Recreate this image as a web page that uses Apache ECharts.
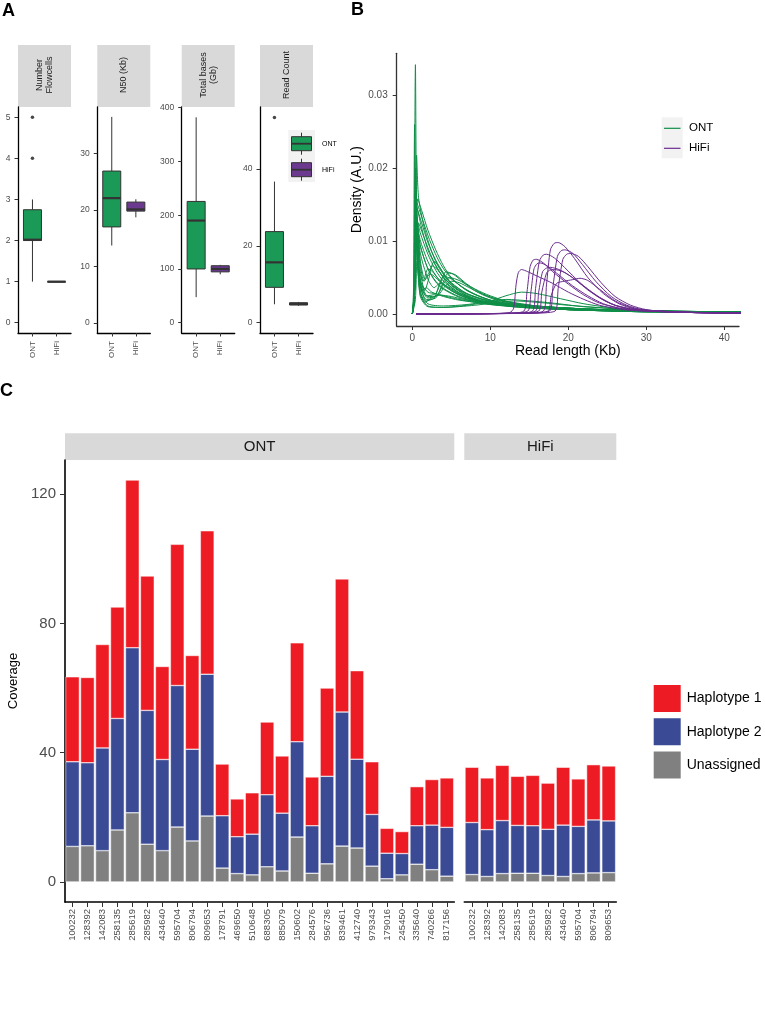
<!DOCTYPE html>
<html><head><meta charset="utf-8">
<script src="https://cdn.jsdelivr.net/npm/echarts@6/dist/echarts.min.js"></script>
<style>html,body{margin:0;padding:0;background:#fff}#c{width:765px;height:1018px}</style>
</head><body><div id="c"></div>
<script>
const FONT = '"Liberation Sans", Arial, Helvetica, sans-serif';

// ---------- Panel A data (boxplots: low whisker, Q1, median, Q3, high whisker) ----------
const boxCategories = ['ONT', 'HiFi'];
const flowcellsBox = [[1, 2, 2.02, 2.75, 3], [1, 1, 1, 1, 1]];
const flowcellsOutliers = [4, 5];
const flowcellsTicks = [0, 1, 2, 3, 4, 5];
const n50Box = [[13.7, 17.0, 22.1, 26.9, 36.5], [18.7, 19.8, 20.1, 21.4, 21.9]];
const n50Outliers = [];
const n50Ticks = [0, 10, 20, 30];
const totalBasesBox = [[47.6, 100, 190, 225.6, 382], [90, 94.6, 100, 106, 107.6]];
const totalBasesOutliers = [];
const totalBasesTicks = [0, 100, 200, 300, 400];
const readCountBox = [[4.8, 9.2, 15.7, 23.7, 36.7], [4.4, 4.6, 4.9, 5.2, 5.4]];
const readCountOutliers = [53.4];
const readCountTicks = [0, 20, 40];

// ---------- Panel B data (read length density curves, [Kb, density]) ----------
const ontCurves = [
  [[0,0],[0.2,0.002],[0.4,0.0342],[0.6,0.009],[1,0.0045],[2,0.003],[3,0.0028],[4,0.0025],[6,0.002],[8,0.0016],[10,0.0013],[14,0.001],[20,0.0007],[30,0.0004],[44,0.0002]],
  [[0,0],[0.15,0.003],[0.3,0.026],[0.5,0.014],[1,0.0095],[2,0.0062],[3,0.0045],[4,0.0035],[6,0.0024],[8,0.0018],[10,0.0014],[14,0.001],[20,0.0007],[30,0.0004],[44,0.0002]],
  [[0,0],[0.3,0.004],[0.55,0.0218],[0.8,0.016],[1.5,0.012],[2.5,0.0085],[3.5,0.0062],[5,0.0042],[7,0.0028],[10,0.0018],[14,0.0012],[20,0.0008],[30,0.0004],[44,0.0002]],
  [[0,0],[0.3,0.003],[0.7,0.0158],[1.2,0.0142],[2,0.0115],[3,0.0088],[4,0.0066],[5,0.005],[7,0.0032],[10,0.0019],[14,0.0012],[20,0.0008],[30,0.0004],[44,0.0002]],
  [[0,0],[0.3,0.003],[0.6,0.0145],[1.2,0.0125],[2,0.0098],[3,0.0074],[4,0.0056],[5,0.0043],[7,0.0028],[10,0.0017],[14,0.0011],[20,0.0007],[30,0.0004],[44,0.0002]],
  [[0,0],[0.25,0.002],[0.5,0.0135],[1,0.0112],[2,0.0082],[3,0.006],[4,0.0045],[6,0.0029],[8,0.002],[10,0.0015],[14,0.001],[20,0.0007],[30,0.0004],[44,0.0002]],
  [[0,0],[0.25,0.002],[0.5,0.013],[1,0.0095],[2,0.0062],[3,0.0044],[4,0.0034],[6,0.0023],[8,0.0017],[10,0.0013],[14,0.0009],[20,0.0006],[30,0.0004],[44,0.0002]],
  [[0,0],[0.25,0.002],[0.5,0.0128],[1,0.0075],[1.6,0.0048],[2.2,0.0058],[2.8,0.0072],[3.5,0.0064],[4.5,0.0047],[6,0.0032],[8,0.0021],[10,0.0015],[14,0.001],[20,0.0006],[30,0.0003],[44,0.0002]],
  [[0,0],[0.25,0.002],[0.5,0.0142],[1,0.0062],[1.6,0.0032],[2.1,0.0048],[2.6,0.0066],[3.3,0.006],[4.5,0.0042],[6,0.0029],[8,0.002],[10,0.0014],[14,0.0009],[20,0.0006],[30,0.0003],[44,0.0002]],
  [[0,0],[0.25,0.002],[0.5,0.012],[1,0.0045],[1.8,0.0025],[3,0.0028],[3.7,0.0045],[4.3,0.0058],[5.2,0.0055],[6.5,0.0044],[8,0.0032],[10,0.0022],[13,0.0014],[20,0.0007],[30,0.0004],[44,0.0002]],
  [[0,0],[0.25,0.002],[0.5,0.0118],[1,0.004],[1.8,0.002],[3,0.0022],[3.9,0.0042],[4.6,0.0056],[5.5,0.0054],[7,0.0041],[9,0.0028],[11,0.002],[14,0.0013],[20,0.0008],[30,0.0004],[44,0.0002]],
  [[0,0],[0.25,0.002],[0.5,0.0125],[1,0.0042],[1.8,0.0018],[2.8,0.0022],[3.5,0.0042],[4,0.0052],[5,0.0048],[6.5,0.0036],[8,0.0027],[10,0.0019],[13,0.0013],[20,0.0007],[30,0.0004],[44,0.0002]],
  [[0,0],[0.25,0.002],[0.5,0.0105],[1,0.003],[2,0.0014],[4,0.0011],[7,0.0013],[10,0.0018],[12,0.0025],[14,0.003],[16,0.0028],[19,0.0021],[22,0.0014],[26,0.0008],[30,0.0005],[44,0.0002]],
  [[0,0],[0.25,0.002],[0.5,0.011],[1,0.0028],[2,0.0011],[4,0.0009],[7,0.0012],[10,0.0017],[12,0.002],[15,0.0018],[18,0.0015],[22,0.001],[30,0.0005],[44,0.0002]],
  [[0,0],[0.25,0.002],[0.5,0.0095],[1,0.0025],[2,0.001],[4,0.0009],[8,0.0012],[11,0.0016],[13,0.0018],[16,0.0016],[20,0.0012],[25,0.0008],[30,0.0005],[44,0.0002]],
  [[0,0],[0.25,0.002],[0.5,0.0138],[1,0.0085],[2,0.0048],[2.8,0.0036],[3.5,0.0042],[4.5,0.0038],[6,0.0028],[8,0.002],[10,0.0015],[14,0.001],[20,0.0006],[30,0.0003],[44,0.0002]],
  [[0,0],[0.4,0.002],[0.8,0.0125],[1.5,0.0105],[2.5,0.0078],[3.5,0.0058],[5,0.0039],[7,0.0025],[10,0.0016],[14,0.0011],[20,0.0007],[30,0.0004],[44,0.0002]],
  [[0,0],[0.2,0.002],[0.45,0.02],[0.7,0.008],[1,0.0035],[1.6,0.0016],[2.5,0.0022],[3.5,0.0026],[5,0.0024],[7,0.0019],[10,0.0015],[14,0.0011],[20,0.0007],[30,0.0004],[44,0.0002]],
  [[0,0],[0.25,0.002],[0.5,0.015],[1,0.0072],[1.5,0.0045],[2.3,0.0055],[3,0.005],[4,0.0039],[6,0.0026],[8,0.0019],[10,0.0014],[14,0.001],[20,0.0006],[30,0.0003],[44,0.0002]],
  [[0,0],[0.25,0.002],[0.5,0.013],[1,0.005],[2,0.0024],[3.2,0.0025],[4.2,0.0038],[5,0.0045],[6,0.0043],[7.5,0.0035],[9.5,0.0025],[12,0.0017],[16,0.0011],[22,0.0007],[30,0.0004],[44,0.0002]],
  [[0,0],[0.25,0.002],[0.55,0.0148],[1.2,0.0118],[2,0.0088],[3,0.0066],[4,0.005],[5.5,0.0036],[7.5,0.0025],[10,0.0017],[14,0.0011],[20,0.0007],[30,0.0004],[44,0.0002]],
  [[0,0],[0.25,0.002],[0.6,0.0152],[1.3,0.013],[2.2,0.0102],[3.2,0.0077],[4.2,0.0059],[5.5,0.0044],[7.5,0.003],[10,0.0019],[14,0.0012],[20,0.0008],[30,0.0004],[44,0.0002]],
  [[0,0],[0.25,0.002],[0.5,0.0122],[0.9,0.006],[1.4,0.0045],[2,0.0062],[2.6,0.0058],[3.5,0.0046],[5,0.0032],[7,0.0022],[10,0.0015],[14,0.001],[20,0.0006],[30,0.0003],[44,0.0002]],
  [[0,0],[0.25,0.002],[0.5,0.0115],[1,0.0042],[2,0.0022],[3.2,0.0026],[4.1,0.0043],[4.8,0.005],[6,0.0046],[7.5,0.0037],[9.5,0.0027],[12,0.0018],[16,0.0011],[22,0.0007],[30,0.0004],[44,0.0002]],
  [[0,0],[0.25,0.002],[0.5,0.0132],[1,0.0102],[2,0.0072],[3,0.0053],[4,0.0041],[6,0.0027],[8,0.0019],[10,0.0014],[14,0.001],[20,0.0006],[30,0.0004],[44,0.0002]],
  [[0,0],[0.2,0.002],[0.45,0.017],[0.8,0.0065],[1.3,0.0032],[1.8,0.0036],[2.5,0.003],[4,0.0024],[6,0.0019],[9,0.0015],[13,0.0011],[20,0.0007],[30,0.0004],[44,0.0002]]
];
const hifiCurves = [
  [[0.5,0],[10,0.00005],[12.5,0.0002],[13,0.0008],[13.3,0.004],[13.6,0.0057],[14,0.0061],[14.8,0.0058],[16,0.0052],[18,0.0042],[20,0.003],[22,0.002],[24,0.0012],[27,0.0006],[30,0.0004],[36,0.0002],[44,0.0001]],
  [[0.5,0],[12,0.0001],[14.3,0.0004],[14.7,0.003],[15.1,0.0065],[15.5,0.0074],[15.9,0.0075],[16.8,0.007],[18,0.0058],[20,0.0041],[22,0.0026],[24,0.0015],[27,0.0007],[30,0.0004],[36,0.0002],[44,0.0001]],
  [[0.5,0],[12,0.0001],[14.8,0.0004],[15.2,0.003],[15.6,0.0062],[16,0.0069],[16.4,0.007],[17.3,0.0066],[18.5,0.0056],[20.5,0.0039],[22.5,0.0025],[24.5,0.0014],[27,0.0007],[30,0.0004],[36,0.0002],[44,0.0001]],
  [[0.5,0],[13,0.0001],[15.4,0.0004],[15.8,0.0035],[16.3,0.0073],[16.8,0.0081],[17.2,0.0082],[18.2,0.0077],[19.5,0.0064],[21.5,0.0043],[23.5,0.0026],[25.5,0.0014],[28,0.0007],[30,0.0005],[36,0.0002],[44,0.0001]],
  [[0.5,0],[13,0.0001],[15.8,0.0004],[16.2,0.003],[16.7,0.0058],[17.2,0.0063],[17.7,0.0064],[18.8,0.0061],[20,0.0054],[22,0.0038],[24,0.0023],[26,0.0012],[28,0.0007],[30,0.0005],[36,0.0002],[44,0.0001]],
  [[0.5,0],[14,0.0001],[16.8,0.0004],[17.2,0.004],[17.7,0.0088],[18.2,0.0097],[18.7,0.0098],[19.6,0.0092],[20.8,0.0076],[22.5,0.005],[24.5,0.0028],[26.5,0.0014],[28.5,0.0007],[31,0.0004],[36,0.0002],[44,0.0001]],
  [[0.5,0],[14,0.0001],[17.6,0.0004],[18,0.0035],[18.6,0.0079],[19.1,0.0087],[19.6,0.0088],[20.6,0.0083],[21.8,0.0068],[23.5,0.0045],[25.5,0.0024],[27.5,0.0012],[29.5,0.0006],[32,0.0004],[36,0.0002],[44,0.0001]],
  [[0.5,0],[15,0.0001],[18.3,0.0004],[18.7,0.0035],[19.3,0.0075],[19.8,0.0082],[20.3,0.0083],[21.3,0.0079],[22.5,0.0065],[24.2,0.0043],[26,0.0024],[28,0.0012],[30,0.0006],[33,0.0003],[44,0.0001]],
  [[0.5,0],[14,0.0001],[17.4,0.0004],[17.8,0.0025],[18.5,0.0042],[19.5,0.0045],[20.5,0.0047],[21.5,0.0049],[22.5,0.0046],[24,0.0034],[26,0.0018],[28,0.0009],[30,0.0005],[36,0.0002],[44,0.0001]],
  [[0.5,0],[13,0.0001],[16.2,0.0004],[16.6,0.003],[17.2,0.0056],[17.6,0.006],[18.2,0.0061],[19.3,0.0058],[20.8,0.0048],[22.5,0.0033],[24.5,0.0019],[26.5,0.001],[29,0.0005],[33,0.0003],[44,0.0001]]
];
const densityTicks = [0, 0.01, 0.02, 0.03];
const lengthTicks = [0, 10, 20, 30, 40];

// ---------- Panel C data (coverage per sample) ----------
const ontSamples = ['100232','128392','142083','258135','285619','285982','434640','595704','806794','809653','178791','469650','510648','688305','885079','150602','284576','956736','839461','412740','979343','179016','245450','335640','740266','817156'];
const ontUnassigned = [11.0,11.2,9.7,16.1,21.4,11.7,9.7,17.0,12.7,20.4,4.3,2.6,2.2,4.7,3.4,13.9,2.7,5.6,11.1,10.5,4.9,1.0,2.2,5.5,3.8,1.8];
const ontHap2 = [26.2,25.7,31.8,34.5,51.1,41.4,28.2,43.8,28.4,43.9,16.2,11.4,12.6,22.3,17.9,29.5,14.7,27.1,41.5,27.5,16.0,7.9,6.6,11.9,13.8,15.1];
const ontHap1 = [26.3,26.4,32.0,34.5,51.9,41.6,28.8,43.7,29.0,44.4,16.0,11.7,12.8,22.5,17.7,30.6,15.1,27.3,41.2,27.4,16.3,7.7,6.8,12.1,14.1,15.3];
const hifiSamples = ['100232','128392','142083','258135','285619','285982','434640','595704','806794','809653'];
const hifiUnassigned = [2.3,1.7,2.6,2.7,2.7,2.0,1.7,2.6,2.8,2.9];
const hifiHap2 = [16.1,14.5,16.4,14.8,14.7,14.3,15.9,14.6,16.4,16.0];
const hifiHap1 = [17.1,16.0,17.1,15.2,15.6,14.3,17.9,14.7,17.1,17.0];
const coverageTicks = [0, 40, 80, 120];

// ---------- styles ----------
const ONT_FILL = '#1b9a57', HIFI_FILL = '#6b3a8f';
const ONT_LINE = '#0f8f47', HIFI_LINE = '#6a2c8e';
const RED = '#ed1c24', BLUE = '#3a4a95', GREY = '#808080';
const TICK_COL = '#4d4d4d';

function boxRender(params, api) {
  const x = api.value(0);
  const p = k => api.coord([x, api.value(k)]);
  const lo = p(1), q1 = p(2), md = p(3), q3 = p(4), hi = p(5);
  const w = 18, cx = lo[0];
  const fill = params.dataIndex === 0 ? ONT_FILL : HIFI_FILL;
  const stroke = '#333';
  return { type: 'group', children: [
    { type: 'line', shape: { x1: cx, y1: lo[1], x2: cx, y2: q1[1] }, style: { stroke, lineWidth: 1 } },
    { type: 'line', shape: { x1: cx, y1: q3[1], x2: cx, y2: hi[1] }, style: { stroke, lineWidth: 1 } },
    { type: 'rect', shape: { x: cx - w / 2, y: q3[1], width: w, height: Math.max(q1[1] - q3[1], 0.5) }, style: { fill, stroke, lineWidth: 1 } },
    { type: 'line', shape: { x1: cx - w / 2, y1: md[1], x2: cx + w / 2, y2: md[1] }, style: { stroke, lineWidth: 2.2 } }
  ]};
}

const grids = [], xAxes = [], yAxes = [], series = [], gfx = [];

// Panel A
const boxPanels = [
  { left: 18,    min: -0.25, max: 5.25,  box: flowcellsBox,  out: flowcellsOutliers,  ticks: flowcellsTicks,  strip: 'Number\nFlowcells' },
  { left: 97.3,  min: -1.8,  max: 38.25, box: n50Box,        out: n50Outliers,        ticks: n50Ticks,        strip: 'N50 (Kb)' },
  { left: 181.7, min: -19.1, max: 401.2, box: totalBasesBox, out: totalBasesOutliers, ticks: totalBasesTicks, strip: 'Total bases\n(Gb)' },
  { left: 260,   min: -2.67, max: 56.1,  box: readCountBox,  out: readCountOutliers,  ticks: readCountTicks,  strip: 'Read Count' }
];
boxPanels.forEach((bp, i) => {
  grids.push({ left: bp.left, top: 107, width: 53, height: 226, outerBoundsMode: 'none' });
  xAxes.push({ type: 'value', gridIndex: i, min: 0.4, max: 2.6,
    axisLine: { show: true, onZero: false, lineStyle: { color: '#000', width: 1.3 } },
    axisTick: { show: true, customValues: [1, 2], length: 3.5, lineStyle: { color: '#333' } },
    axisLabel: { customValues: [1, 2], formatter: v => boxCategories[Math.round(v) - 1], rotate: 90, fontSize: 8, color: TICK_COL, margin: 8, fontFamily: FONT },
    splitLine: { show: false } });
  yAxes.push({ type: 'value', gridIndex: i, min: bp.min, max: bp.max,
    axisLine: { show: true, onZero: false, lineStyle: { color: '#000', width: 1.3 } },
    axisTick: { show: true, customValues: bp.ticks, length: 3.5, lineStyle: { color: '#333' } },
    axisLabel: { customValues: bp.ticks, fontSize: 8.5, color: TICK_COL, margin: 7.5, fontFamily: FONT },
    splitLine: { show: false } });
  series.push({ type: 'custom', xAxisIndex: i, yAxisIndex: i, renderItem: boxRender,
    encode: { x: 0, y: [1, 2, 3, 4, 5] },
    data: bp.box.map((b, k) => [k + 1].concat(b)), z: 3 });
  if (bp.out.length) {
    series.push({ type: 'scatter', xAxisIndex: i, yAxisIndex: i, symbol: 'circle', symbolSize: 3.5,
      itemStyle: { color: '#1a1a1a' }, data: bp.out.map(v => [1, v]), z: 4 });
  }
  gfx.push({ type: 'rect', shape: { x: bp.left, y: 45, width: 53, height: 62 }, style: { fill: '#d9d9d9' } });
  gfx.push({ type: 'text', x: bp.left + 26.5, y: 75, rotation: Math.PI / 2,
    style: { text: bp.strip, font: '9px ' + FONT, fill: '#1a1a1a', align: 'center', verticalAlign: 'middle', textAlign: 'center', textVerticalAlign: 'middle', lineHeight: 10 } });
});

// Panel A legend (box glyph keys)
gfx.push({ type: 'rect', shape: { x: 288.3, y: 130, width: 26.7, height: 52 }, style: { fill: '#f2f2f2' } });
[[ONT_FILL, 143.7, 'ONT'], [HIFI_FILL, 169.7, 'HiFi']].forEach(([col, cy, lab]) => {
  gfx.push({ type: 'line', shape: { x1: 301.5, y1: cy - 11, x2: 301.5, y2: cy + 11 }, style: { stroke: '#333', lineWidth: 1 } });
  gfx.push({ type: 'rect', shape: { x: 291.5, y: cy - 7, width: 20, height: 14 }, style: { fill: col, stroke: '#333', lineWidth: 1 } });
  gfx.push({ type: 'line', shape: { x1: 291.5, y1: cy, x2: 311.5, y2: cy }, style: { stroke: '#333', lineWidth: 1.8 } });
  gfx.push({ type: 'text', x: 322, y: cy, style: { text: lab, font: '7px ' + FONT, fill: '#000', align: 'left', verticalAlign: 'middle', textAlign: 'left', textVerticalAlign: 'middle' } });
});

// Panel B
grids.push({ left: 396.7, top: 53.3, width: 342.3, height: 272.7, outerBoundsMode: 'none' });
xAxes.push({ type: 'value', gridIndex: 4, min: -2.0, max: 41.88,
  name: 'Read length (Kb)', nameLocation: 'middle', nameGap: 18.5,
  nameTextStyle: { fontSize: 14, color: '#000', fontFamily: FONT },
  axisLine: { show: true, onZero: false, lineStyle: { color: '#333', width: 1.3 } },
  axisTick: { show: true, customValues: lengthTicks, length: 4, lineStyle: { color: '#333' } },
  axisLabel: { customValues: lengthTicks, fontSize: 10, color: TICK_COL, margin: 7, fontFamily: FONT },
  splitLine: { show: false } });
yAxes.push({ type: 'value', gridIndex: 4, min: -0.001646, max: 0.03576,
  name: 'Density (A.U.)', nameLocation: 'middle', nameGap: 30,
  nameTextStyle: { fontSize: 14, color: '#000', fontFamily: FONT },
  axisLine: { show: true, onZero: false, lineStyle: { color: '#333', width: 1.3 } },
  axisTick: { show: true, customValues: densityTicks, length: 4, lineStyle: { color: '#333' } },
  axisLabel: { customValues: densityTicks, formatter: v => v.toFixed(2), fontSize: 10, color: TICK_COL, margin: 9, fontFamily: FONT },
  splitLine: { show: false } });
ontCurves.forEach(c => series.push({ type: 'line', name: 'ONT', xAxisIndex: 4, yAxisIndex: 4, data: c,
  showSymbol: false, smooth: 0.25, lineStyle: { color: ONT_LINE, width: 1 }, itemStyle: { color: ONT_LINE }, z: 2 }));
hifiCurves.forEach(c => series.push({ type: 'line', name: 'HiFi', xAxisIndex: 4, yAxisIndex: 4, data: c,
  showSymbol: false, smooth: 0.25, lineStyle: { color: HIFI_LINE, width: 1 }, itemStyle: { color: HIFI_LINE }, z: 3 }));
// Panel B legend
gfx.push({ type: 'rect', shape: { x: 661.7, y: 117.3, width: 21, height: 41 }, style: { fill: '#f2f2f2' } });
[[ONT_LINE, 128.3, 'ONT'], [HIFI_LINE, 148.3, 'HiFi']].forEach(([col, cy, lab]) => {
  gfx.push({ type: 'line', shape: { x1: 664, y1: cy, x2: 680.5, y2: cy }, style: { stroke: col, lineWidth: 1.2 } });
  gfx.push({ type: 'text', x: 689, y: cy, style: { text: lab, font: '11.5px ' + FONT, fill: '#000', align: 'left', verticalAlign: 'middle', textAlign: 'left', textVerticalAlign: 'middle' } });
});

// Panel C
const covMin = -6.2, covMax = 130.6;
[[65, 389.3, ontSamples, ontUnassigned, ontHap2, ontHap1, 'ont', 'ONT'],
 [464.3, 152, hifiSamples, hifiUnassigned, hifiHap2, hifiHap1, 'hifi', 'HiFi']].forEach((p, k) => {
  const gi = 5 + k;
  const [left, width, cats, un, h2, h1, stk, title] = p;
  grids.push({ left, top: 460, width, height: 442, outerBoundsMode: 'none' });
  xAxes.push({ type: 'category', gridIndex: gi, data: cats, boundaryGap: true,
    axisLine: { show: true, onZero: false, lineStyle: { color: '#000', width: 1.6 } },
    axisTick: { show: true, alignWithLabel: true, length: 5, lineStyle: { color: '#333' } },
    axisLabel: { interval: 0, rotate: 90, fontSize: 9.5, color: TICK_COL, margin: 7, fontFamily: FONT },
    splitLine: { show: false } });
  yAxes.push(k === 0 ? { type: 'value', gridIndex: gi, min: covMin, max: covMax,
    name: 'Coverage', nameLocation: 'middle', nameGap: 42,
    nameTextStyle: { fontSize: 13, color: '#000', fontFamily: FONT },
    axisLine: { show: true, onZero: false, lineStyle: { color: '#000', width: 1.6 } },
    axisTick: { show: true, customValues: coverageTicks, length: 5, lineStyle: { color: '#333' } },
    axisLabel: { customValues: coverageTicks, fontSize: 15, color: TICK_COL, margin: 9, fontFamily: FONT },
    splitLine: { show: false } }
    : { type: 'value', gridIndex: gi, min: covMin, max: covMax, show: false, splitLine: { show: false } });
  [['Unassigned', un, GREY], ['Haplotype 2', h2, BLUE], ['Haplotype 1', h1, RED]].forEach(([nm, vals, col]) => {
    series.push({ type: 'bar', name: nm, xAxisIndex: gi, yAxisIndex: gi, stack: stk, data: vals, barWidth: 13.8,
      itemStyle: { color: col, borderColor: '#ffffff', borderWidth: 0.5 } });
  });
  gfx.push({ type: 'rect', shape: { x: left, y: 433.3, width, height: 26.7 }, style: { fill: '#d9d9d9' } });
  gfx.push({ type: 'text', x: left + width / 2, y: 446.7, style: { text: title, font: '15px ' + FONT, fill: '#1a1a1a', align: 'center', verticalAlign: 'middle', textAlign: 'center', textVerticalAlign: 'middle' } });
});

// Panel tags
[['A', 2, 2], ['B', 351, 1], ['C', 0, 382]].forEach(([t, x, y]) => {
  gfx.push({ type: 'text', x, y, style: { text: t, font: 'bold 18px ' + FONT, fill: '#000', align: 'left', verticalAlign: 'top', textAlign: 'left', textVerticalAlign: 'top' } });
});

const chart = echarts.init(document.getElementById('c'), null, { renderer: 'canvas', width: 765, height: 1018 });
chart.setOption({
  animation: false,
  backgroundColor: '#ffffff',
  textStyle: { fontFamily: FONT },
  grid: grids, xAxis: xAxes, yAxis: yAxes, series,
  legend: { data: ['Haplotype 1', 'Haplotype 2', 'Unassigned'], orient: 'vertical', left: 646.7, top: 678,
    itemWidth: 29, itemHeight: 29, itemGap: 2.3, icon: 'rect', selectedMode: false,
    textStyle: { fontSize: 14, color: '#000', fontFamily: FONT } },
  graphic: { elements: gfx }
});
</script></body></html>
